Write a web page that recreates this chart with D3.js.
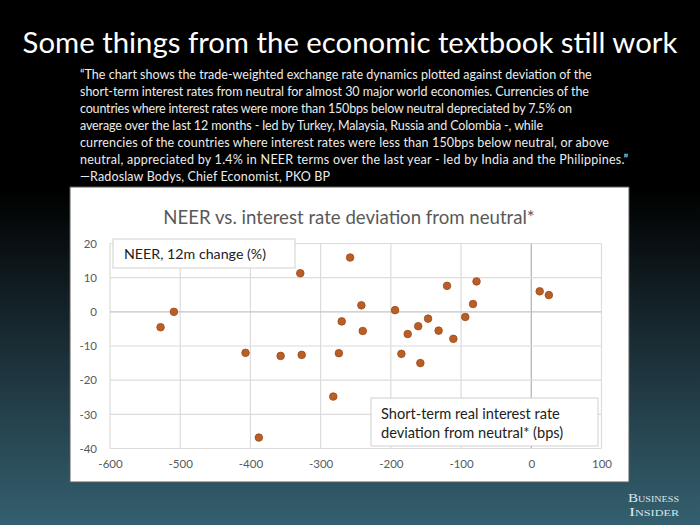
<!DOCTYPE html>
<html>
<head>
<meta charset="utf-8">
<script src="https://cdn.jsdelivr.net/npm/d3@7/dist/d3.min.js"></script>
<style>
  html, body { margin: 0; padding: 0; background: #000; }
  svg { display: block; }
</style>
</head>
<body>
<script>
// ---- Data ----
const deviationBps = [-528, -509, -407, -388, -357, -327, -329, -282, -274, -270, -258, -242, -240,
  -194, -185, -176, -161, -158, -147, -132, -120, -111, -94, -83, -78, 12, 25];
const neerChange = [-4.5, 0, -12, -36.8, -12.9, -12.6, 11.3, -24.8, -12.1, -2.8, 15.9, 1.9, -5.6,
  0.5, -12.3, -6.5, -4.2, -15, -2.0, -5.5, 7.6, -7.9, -1.5, 2.3, 8.9, 6.0, 4.9];
const xTicks = [-600, -500, -400, -300, -200, -100, 0, 100];
const yTicks = [-40, -30, -20, -10, 0, 10, 20];
const pageTitle = "Some things from the economic textbook still work";
const quoteLines = [
  "\u201CThe chart shows the trade-weighted exchange rate dynamics plotted against deviation of the",
  "short-term interest rates from neutral for almost 30 major world economies. Currencies of the",
  "countries where interest rates were more than 150bps below neutral depreciated by 7.5% on",
  "average over the last 12 months - led by Turkey, Malaysia, Russia and Colombia -, while",
  "currencies of the countries where interest rates were less than 150bps below neutral, or above",
  "neutral, appreciated by 1.4% in NEER terms over the last year - led by India and the Philippines.\u201D",
  "\u2014Radoslaw Bodys, Chief Economist, PKO BP"
];
const chartTitle = "NEER vs. interest rate deviation from neutral*";
const yLabel = "NEER, 12m change (%)";
const xLabelLines = ["Short-term real interest rate", "deviation from neutral* (bps)"];

const W = 700, H = 525;
const svg = d3.select("body").append("svg").attr("width", W).attr("height", H);
const FONT = "Lato, 'Open Sans', sans-serif";

function fitWidth(sel, target) {
  const fs = parseFloat(sel.attr("font-size"));
  const w = sel.node().getComputedTextLength();
  if (w > 0) sel.attr("font-size", (fs * target / w).toFixed(2));
  return sel;
}

// Background gradient
const defs = svg.append("defs");
const grad = defs.append("linearGradient").attr("id", "bg").attr("x1", 0).attr("y1", 0).attr("x2", 0).attr("y2", 1);
grad.append("stop").attr("offset", "0%").attr("stop-color", "#000000");
grad.append("stop").attr("offset", "36%").attr("stop-color", "#000000");
grad.append("stop").attr("offset", "68%").attr("stop-color", "#1c3039");
grad.append("stop").attr("offset", "100%").attr("stop-color", "#34606f");
svg.append("rect").attr("width", W).attr("height", H).attr("fill", "url(#bg)");

// Page title
const t = svg.append("text").attr("x", 350).attr("y", 53).attr("text-anchor", "middle")
  .attr("font-family", FONT).attr("font-size", 30).attr("fill", "#ffffff")
  .text(pageTitle);
fitWidth(t, 655);

// Quote
const lineEnds = [592, 589, 572, 543, 609, 628, 330];
const q = svg.append("g").attr("font-family", FONT).attr("fill", "#ececec");
const first = q.append("text").attr("x", 80).attr("y", 79).attr("font-size", 12.5).text(quoteLines[0]);
fitWidth(first, 512);
const qfs = first.attr("font-size");
quoteLines.slice(1).forEach((l, i) => {
  const tx = q.append("text").attr("x", 80).attr("y", 79 + (i + 1) * 16.95).attr("font-size", qfs).text(l);
  const w = tx.node().getComputedTextLength();
  const target = lineEnds[i + 1] - 80;
  const ls = (target - w) / Math.max(1, l.length - 1);
  tx.style("letter-spacing", ls.toFixed(3) + "px");
});

// Chart box
svg.append("rect").attr("x", 70).attr("y", 187).attr("width", 559).attr("height", 295)
  .attr("fill", "#ffffff").attr("stroke", "#5a5a5a").attr("stroke-width", 1);

const x = d3.scaleLinear().domain([-600, 100]).range([110, 601.5]);
const y = d3.scaleLinear().domain([-40, 20]).range([448.5, 243.5]);

const ct = svg.append("text").attr("x", 349).attr("y", 224).attr("text-anchor", "middle")
  .attr("font-family", FONT).attr("font-size", 17).attr("fill", "#595959")
  .text(chartTitle);
fitWidth(ct, 372);

// Gridlines
const grid = svg.append("g");
grid.selectAll("line.v").data(xTicks).join("line").attr("class", "v")
  .attr("x1", d => x(d)).attr("x2", d => x(d)).attr("y1", y(20)).attr("y2", y(-40))
  .attr("stroke", d => d === 0 ? "#b0b0b0" : "#dcdcdc").attr("stroke-width", 1.2);
grid.selectAll("line.h").data(yTicks).join("line").attr("class", "h")
  .attr("y1", d => y(d)).attr("y2", d => y(d)).attr("x1", x(-600)).attr("x2", x(100))
  .attr("stroke", d => d === 0 ? "#c4c4c4" : "#dcdcdc").attr("stroke-width", 1.2);

// Axes
const fmt = d => String(d);
const yAxis = svg.append("g").attr("transform", `translate(${x(-600)},0)`)
  .call(d3.axisLeft(y).tickValues(yTicks).tickSize(0).tickPadding(13).tickFormat(fmt));
const xAxis = svg.append("g").attr("transform", `translate(0,${y(-40)})`)
  .call(d3.axisBottom(x).tickValues(xTicks).tickSize(0).tickPadding(11).tickFormat(fmt));
[yAxis, xAxis].forEach(a => {
  a.select(".domain").remove();
  a.selectAll("text").attr("font-family", FONT).attr("font-size", 11.5).attr("fill", "#595959");
});

// Label boxes
svg.append("rect").attr("x", 113).attr("y", 239).attr("width", 182).attr("height", 29)
  .attr("fill", "#ffffff").attr("stroke", "#d0d0d0").attr("stroke-width", 1);
const yl = svg.append("text").attr("x", 124).attr("y", 258.5)
  .attr("font-family", FONT).attr("font-size", 14).attr("fill", "#222222")
  .text(yLabel);
fitWidth(yl, 142);

// Points
svg.append("g").selectAll("circle").data(deviationBps.map((d, i) => [d, neerChange[i]])).join("circle")
  .attr("cx", d => x(d[0])).attr("cy", d => y(d[1])).attr("r", 3.8)
  .attr("fill", "#b95e26").attr("stroke", "#9c4a18").attr("stroke-width", 0.8);

svg.append("rect").attr("x", 371).attr("y", 398).attr("width", 227).attr("height", 48)
  .attr("fill", "#ffffff").attr("stroke", "#d0d0d0").attr("stroke-width", 1);
const xl1 = svg.append("text").attr("x", 381).attr("y", 419)
  .attr("font-family", FONT).attr("font-size", 14.5).attr("fill", "#222222")
  .text(xLabelLines[0]);
fitWidth(xl1, 179);
svg.append("text").attr("x", 381).attr("y", 438)
  .attr("font-family", FONT).attr("font-size", xl1.attr("font-size")).attr("fill", "#222222")
  .text(xLabelLines[1]);

// Logo
const logo = svg.append("g").attr("font-family", "'Liberation Serif', 'DejaVu Serif', serif")
  .attr("fill", "#dce8ec").attr("font-variant", "small-caps");
logo.append("text").attr("x", 628).attr("y", 502).attr("font-size", 12)
  .attr("textLength", 51).attr("lengthAdjust", "spacingAndGlyphs").text("Business");
logo.append("text").attr("x", 629).attr("y", 516).attr("font-size", 12)
  .attr("textLength", 50).attr("lengthAdjust", "spacingAndGlyphs").text("Insider");
</script>
</body>
</html>
